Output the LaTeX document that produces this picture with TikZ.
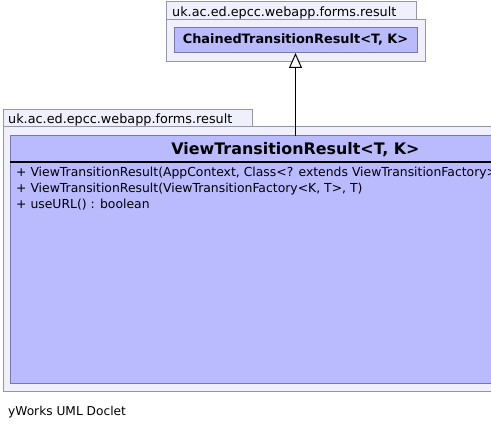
\documentclass[tikz,border=0pt]{standalone}
\usepackage{fontspec}
\setmainfont{DejaVu Sans}
\usetikzlibrary{arrows.meta}
\definecolor{pkgfill}{RGB}{240,240,252}
\definecolor{pkgline}{RGB}{150,150,170}
\definecolor{clsfill}{RGB}{186,186,255}
\definecolor{clsline}{RGB}{120,120,170}
\tikzset{
  box/.style={rectangle, inner sep=0pt, outer sep=0pt, anchor=north west},
  pkg/.style={box, draw=pkgline, fill=pkgfill, line width=1pt},
  cls/.style={box, draw=clsline, fill=clsfill, line width=1pt},
  lbl/.style={inner sep=0pt, anchor=base west, text=black},
  ttl/.style={inner sep=0pt, anchor=base, text=black, font=\bfseries},
  gen/.style={line width=1pt, -{Triangle[open, fill=white, length=15pt, width=13pt]}}
}
\begin{document}
\begin{tikzpicture}[x=1pt, y=-1pt]
\useasboundingbox (0,0) rectangle (491,430);
\fill[white] (0,0) rectangle (491,430);
\clip (0,0) rectangle (491,430);
% upper package
\node[pkg, minimum width=250pt, minimum height=18pt] (tab1) at (166,2) {};
\node[pkg, minimum width=259pt, minimum height=42pt] (pk1) at (166,20) {};
\node[lbl, font=\fontsize{12.8}{14}\selectfont] (pk1lbl) at (172,16.5) {uk.ac.ed.epcc.webapp.forms.result};
\node[cls, minimum width=243pt, minimum height=25pt] (ctr) at (174,28) {};
\node[ttl, font=\fontsize{12.9}{14}\selectfont\bfseries] (ctrlbl) at (295.5,44) {ChainedTransitionResult<T, K>};
% lower package
\node[pkg, minimum width=249pt, minimum height=17pt] (tab2) at (3,110) {};
\node[pkg, minimum width=600pt, minimum height=265pt] (pk2) at (3,127) {};
\node[lbl, font=\fontsize{12.8}{14}\selectfont] (pk2lbl) at (8,123.5) {uk.ac.ed.epcc.webapp.forms.result};
\node[cls, minimum width=571pt, minimum height=248pt] (vtr) at (10,136) {};
\node[ttl, font=\fontsize{15.9}{18}\selectfont\bfseries] (vtrlbl) at (295.5,155) {ViewTransitionResult<T, K>};
\coordinate (sepL) at (10,162);
\coordinate (sepR) at (581,162);
\draw[line width=2pt, black] (sepL) -- (sepR);
\node[lbl, font=\fontsize{12.4}{14}\selectfont] (m1) at (16,177) {+ ViewTransitionResult(AppContext, Class<? extends ViewTransitionFactory>, T)};
\node[lbl, font=\fontsize{12.4}{14}\selectfont] (m2) at (16,193) {+ ViewTransitionResult(ViewTransitionFactory<K, T>, T)};
\node[lbl, font=\fontsize{12.4}{14}\selectfont] (m3) at (16,209) {+ useURL() : boolean};
% generalization
\draw[gen] (vtr.north) -- (ctr.south);
% footer
\node[lbl, font=\fontsize{12.2}{14}\selectfont] (foot) at (8,416) {yWorks UML Doclet};
\end{tikzpicture}
\end{document}
